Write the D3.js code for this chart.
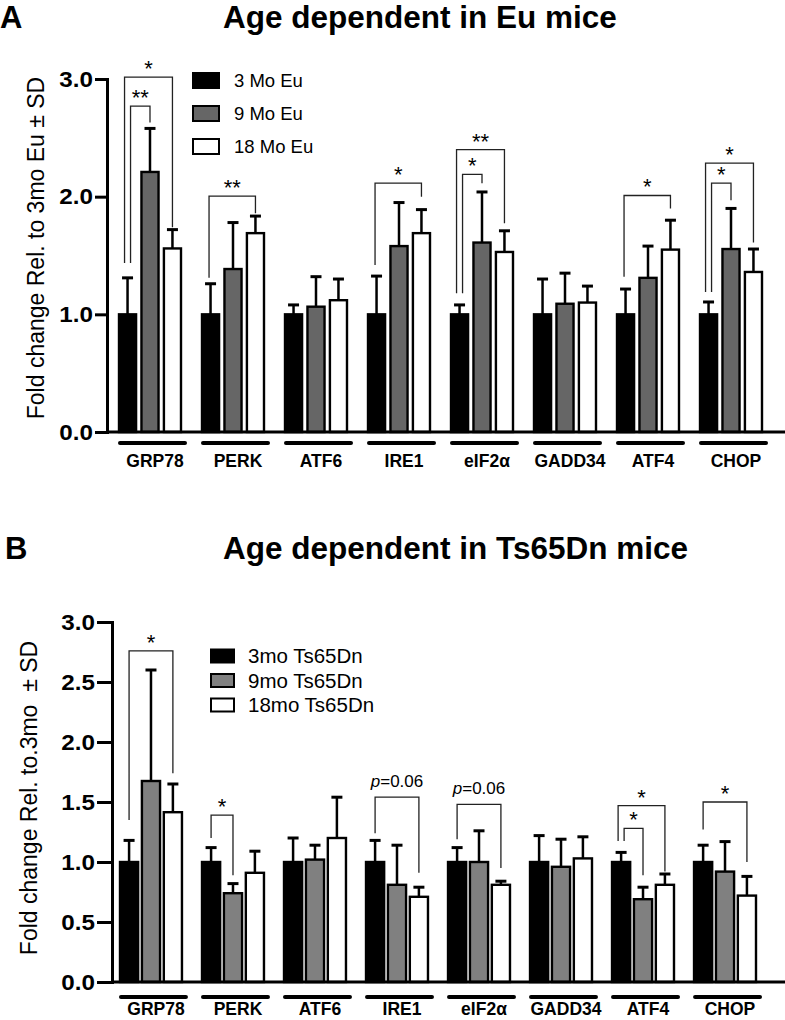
<!DOCTYPE html>
<html><head><meta charset="utf-8">
<script src="https://cdn.jsdelivr.net/npm/d3@7"></script>
<style>
body{margin:0;background:#fff;}
svg text{font-family:"Liberation Sans", Arial, Helvetica, sans-serif;fill:#000;}
</style></head><body>
<svg id="c" width="785" height="1020"></svg>
<script>
// ---------------- DATA ----------------
const categories = ["GRP78","PERK","ATF6","IRE1","eIF2α","GADD34","ATF4","CHOP"];
const yTicksA = [0,1,2,3];
const yTicksB = [0,0.5,1,1.5,2,2.5,3];

// Panel A: Eu mice
const seriesA = ["3 Mo Eu","9 Mo Eu","18 Mo Eu"];
const meanA_3mo  = [1,1,1,1,1,1,1,1];
const sdA_3mo    = [0.31,0.26,0.08,0.325,0.08,0.30,0.215,0.105];
const meanA_9mo  = [2.21,1.385,1.065,1.58,1.61,1.09,1.31,1.555];
const sdA_9mo    = [0.37,0.395,0.255,0.37,0.43,0.26,0.27,0.345];
const meanA_18mo = [1.56,1.69,1.12,1.69,1.53,1.10,1.55,1.36];
const sdA_18mo   = [0.16,0.145,0.18,0.20,0.18,0.14,0.25,0.195];
// brackets: [category, fromSeries, toSeries, topValue, leftLegEnd, rightLegEnd, label]
const bracketsA = [
  ["GRP78",0,2,3.016,1.436,1.74,"*"],
  ["GRP78",0,1,2.77,1.436,2.63,"**"],
  ["PERK",0,2,2.005,1.31,1.86,"**"],
  ["IRE1",0,2,2.115,1.42,2.0,"*"],
  ["eIF2α",0,2,2.40,1.18,1.775,"**"],
  ["eIF2α",0,1,2.19,1.18,2.115,"*"],
  ["ATF4",0,2,2.01,1.32,1.90,"*"],
  ["CHOP",0,2,2.285,1.19,1.61,"*"],
  ["CHOP",0,1,2.115,1.19,1.97,"*"]
];

// Panel B: Ts65Dn mice
const seriesB = ["3mo Ts65Dn","9mo Ts65Dn","18mo Ts65Dn"];
const meanB_3mo  = [1,1,1,1,1,1,1,1];
const sdB_3mo    = [0.18,0.12,0.20,0.18,0.12,0.22,0.08,0.14];
const meanB_9mo  = [1.675,0.74,1.02,0.81,1.0,0.96,0.69,0.92];
const sdB_9mo    = [0.925,0.08,0.12,0.33,0.26,0.23,0.10,0.25];
const meanB_18mo = [1.415,0.91,1.20,0.71,0.81,1.03,0.81,0.72];
const sdB_18mo   = [0.235,0.18,0.34,0.08,0.03,0.18,0.09,0.16];
const bracketsB = [
  ["GRP78",0,2,2.76,1.35,1.74,"*"],
  ["PERK",0,1,1.39,1.20,0.89,"*"],
  ["IRE1",0,2,1.54,1.24,0.91,"p=0.06"],
  ["eIF2α",0,2,1.48,1.19,0.95,"p=0.06"],
  ["ATF4",0,2,1.47,1.175,0.92,"*"],
  ["ATF4",0,1,1.28,1.175,0.89,"*"],
  ["CHOP",0,2,1.50,1.27,1.00,"*"]
];

// ---------------- DRAWING ----------------
const svg = d3.select("#c");

function panel(cfg){
  const g = svg.append("g");
  const x = d3.scaleBand().domain(categories).range([cfg.x0, cfg.x1]).paddingInner(cfg.pad).paddingOuter(0);
  const xs = d3.scaleBand().domain([0,1,2]).range([0, x.bandwidth()]).paddingInner(cfg.subPad);
  const y = d3.scaleLinear().domain([0,3]).range([cfg.yBottom, cfg.yTop]);
  const bw = xs.bandwidth();

  // panel letter and title
  g.append("text").attr("x", cfg.letterX).attr("y", cfg.titleY).attr("font-size", 31).attr("font-weight","bold").text(cfg.letter);
  g.append("text").attr("x", 223).attr("y", cfg.titleY).attr("font-size", 31.5).attr("font-weight","bold").text(cfg.title);

  // error bars
  cfg.series.forEach((s, si) => {
    categories.forEach((c, ci) => {
      const m = s.mean[ci], sd = s.sd[ci];
      const cx = x(c) + xs(si) + bw/2;
      g.append("line").attr("x1",cx).attr("x2",cx).attr("y1",y(m)).attr("y2",y(m+sd))
        .attr("stroke","#000").attr("stroke-width",2.5);
      g.append("line").attr("x1",cx-5.5).attr("x2",cx+5.5).attr("y1",y(m+sd)).attr("y2",y(m+sd))
        .attr("stroke","#000").attr("stroke-width",3);
    });
  });
  // bars
  cfg.series.forEach((s, si) => {
    g.append("g").selectAll("rect").data(categories).join("rect")
      .attr("x", c => x(c) + xs(si) + 1)
      .attr("y", (c,i) => y(s.mean[i]))
      .attr("width", bw - 2)
      .attr("height", (c,i) => y(0) - y(s.mean[i]))
      .attr("fill", cfg.colors[si]).attr("stroke","#000").attr("stroke-width",2.4);
  });

  // y axis
  const ax = g.append("g").attr("transform", `translate(${cfg.axisX},0)`)
    .call(d3.axisLeft(y).tickValues(cfg.ticks).tickFormat(d3.format(".1f"))
      .tickSize(cfg.tickLen).tickSizeOuter(0).tickPadding(cfg.tickPad));
  ax.select(".domain").attr("stroke-width",3).attr("stroke-linecap","square");
  ax.selectAll(".tick line").attr("stroke-width",3);
  ax.selectAll(".tick text")
    .attr("font-family",null).attr("font-size",cfg.tickFont).attr("font-weight","bold")
    .attr("x",0).attr("transform",`translate(${-(cfg.tickLen+cfg.tickPad)},0) scale(1.1,1)`);
  ax.attr("font-family",null).attr("font-size",null);
  // x axis baseline
  g.append("line").attr("x1",cfg.axisX).attr("x2",785).attr("y1",y(0)).attr("y2",y(0))
    .attr("stroke","#000").attr("stroke-width",3);

  // category underlines and labels
  categories.forEach(c => {
    const x0 = x(c);
    g.append("line").attr("x1",x0+2).attr("x2",x0+x.bandwidth()+3)
      .attr("y1",cfg.ulY).attr("y2",cfg.ulY).attr("stroke","#000").attr("stroke-width",4).attr("stroke-linecap","round");
    g.append("text").attr("x",x0+x.bandwidth()/2+5).attr("y",cfg.catY).attr("text-anchor","middle")
      .attr("font-size",17.5).attr("font-weight","bold").text(c);
  });

  // y title
  g.append("text").attr("transform",`translate(${cfg.yTitleX},${cfg.yTitleY}) rotate(-90)`)
    .attr("text-anchor","middle").attr("font-size",23).style("white-space","pre").text(cfg.yTitle);

  // legend
  cfg.series.forEach((s, si) => {
    const ly = cfg.legY + si*cfg.legStep;
    g.append("rect").attr("x",cfg.legX).attr("y",ly - cfg.swH/2).attr("width",cfg.swW).attr("height",cfg.swH)
      .attr("fill",cfg.colors[si]).attr("stroke","#000").attr("stroke-width",2);
    g.append("text").attr("x",cfg.legTextX).attr("y",ly + cfg.legFont*0.36).attr("font-size",cfg.legFont).text(s.name);
  });

  // significance brackets
  cfg.brackets.forEach(b => {
    const [c, a, bb, top, la, lb, label] = b;
    const same = cfg.brackets.filter(o => o[0] === c);
    let off = cfg.singleOff;
    if (same.length > 1) {
      const maxTop = d3.max(same, o => o[3]);
      off = top === maxTop ? -3 : 3;
    }
    const xl = x(c) + xs(a) + bw/2 + off;
    const xr = x(c) + xs(bb) + bw/2;
    g.append("path").attr("d",`M${xl},${y(la)}V${y(top)}H${xr}V${y(lb)}`)
      .attr("fill","none").attr("stroke","#222").attr("stroke-width",1.3);
    const cx = (xl + xr)/2;
    if (label.startsWith("p=")) {
      const t = g.append("text").attr("x",cx).attr("y",y(top)-10).attr("text-anchor","middle").attr("font-size",17);
      t.append("tspan").attr("font-style","italic").text("p");
      t.append("tspan").text(label.slice(1));
    } else {
      g.append("text").attr("x",cx).attr("y",y(top)-1).attr("text-anchor","middle").attr("font-size",22).text(label);
    }
  });
}

panel({
  letter:"A", letterX:0, title:"Age dependent in Eu mice", titleY:28,
  x0:118, x1:763, pad:0.229, subPad:0.15,
  yBottom:432, yTop:79, axisX:107, ticks:yTicksA, tickLen:12, tickPad:2, tickFont:22,
  ulY:443, catY:467,
  yTitle:"Fold change Rel. to 3mo Eu ± SD", yTitleX:44, yTitleY:248,
  colors:["#000","#666","#fff"],
  series:[
    {name:seriesA[0], mean:meanA_3mo, sd:sdA_3mo},
    {name:seriesA[1], mean:meanA_9mo, sd:sdA_9mo},
    {name:seriesA[2], mean:meanA_18mo, sd:sdA_18mo}
  ],
  legX:193, legTextX:234, legY:80.5, legStep:33, swW:26, swH:15, legFont:18.5,
  brackets:bracketsA, singleOff:-1.5
});

panel({
  letter:"B", letterX:5, title:"Age dependent in Ts65Dn mice", titleY:559,
  x0:119, x1:757, pad:0.22, subPad:0.08,
  yBottom:982, yTop:622, axisX:112, ticks:yTicksB, tickLen:15, tickPad:2, tickFont:22,
  ulY:997, catY:1015,
  yTitle:"Fold change Rel. to.3mo  ± SD", yTitleX:37, yTitleY:798,
  colors:["#000","#808080","#fff"],
  series:[
    {name:seriesB[0], mean:meanB_3mo, sd:sdB_3mo},
    {name:seriesB[1], mean:meanB_9mo, sd:sdB_9mo},
    {name:seriesB[2], mean:meanB_18mo, sd:sdB_18mo}
  ],
  legX:211, legTextX:248, legY:656, legStep:24.5, swW:23, swH:13, legFont:20.5,
  brackets:bracketsB, singleOff:0
});
</script>
</body></html>
